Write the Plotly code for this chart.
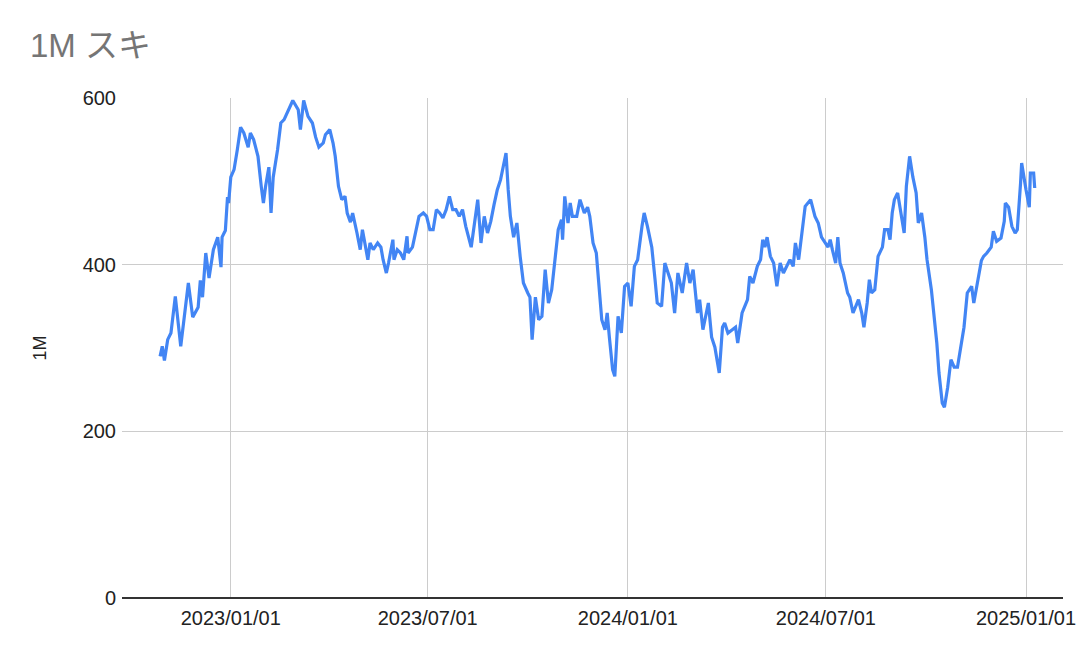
import plotly.graph_objects as go

dates = [
    "2022-10-28", "2022-10-30", "2022-11-01", "2022-11-04", "2022-11-07", "2022-11-11", "2022-11-16", "2022-11-19",
    "2022-11-23", "2022-11-27", "2022-12-02", "2022-12-04", "2022-12-06", "2022-12-09", "2022-12-12", "2022-12-16",
    "2022-12-20", "2022-12-23", "2022-12-24", "2022-12-27", "2022-12-29", "2022-12-30", "2023-01-01", "2023-01-04",
    "2023-01-06", "2023-01-07", "2023-01-10", "2023-01-13", "2023-01-17", "2023-01-19", "2023-01-22", "2023-01-26",
    "2023-01-29", "2023-01-31", "2023-02-02", "2023-02-05", "2023-02-07", "2023-02-09", "2023-02-13", "2023-02-16",
    "2023-02-19", "2023-02-22", "2023-02-27", "2023-03-04", "2023-03-06", "2023-03-09", "2023-03-13", "2023-03-17",
    "2023-03-20", "2023-03-23", "2023-03-27", "2023-03-29", "2023-04-02", "2023-04-05", "2023-04-07", "2023-04-10",
    "2023-04-13", "2023-04-16", "2023-04-18", "2023-04-21", "2023-04-23", "2023-04-27", "2023-04-30", "2023-05-02",
    "2023-05-05", "2023-05-07", "2023-05-09", "2023-05-12", "2023-05-16", "2023-05-19", "2023-05-21", "2023-05-24",
    "2023-05-26", "2023-05-30", "2023-05-31", "2023-06-03", "2023-06-06", "2023-06-09", "2023-06-12", "2023-06-13",
    "2023-06-17", "2023-06-20", "2023-06-23", "2023-06-27", "2023-06-30", "2023-07-03", "2023-07-06", "2023-07-09",
    "2023-07-12", "2023-07-15", "2023-07-18", "2023-07-21", "2023-07-24", "2023-07-27", "2023-07-30", "2023-08-02",
    "2023-08-05", "2023-08-10", "2023-08-12", "2023-08-16", "2023-08-19", "2023-08-22", "2023-08-25", "2023-08-28",
    "2023-08-31", "2023-09-03", "2023-09-06", "2023-09-09", "2023-09-11", "2023-09-13", "2023-09-15", "2023-09-18",
    "2023-09-21", "2023-09-24", "2023-09-27", "2023-10-01", "2023-10-03", "2023-10-05", "2023-10-08", "2023-10-11",
    "2023-10-14", "2023-10-17", "2023-10-20", "2023-10-23", "2023-10-26", "2023-10-29", "2023-11-01", "2023-11-02",
    "2023-11-04", "2023-11-07", "2023-11-09", "2023-11-11", "2023-11-15", "2023-11-18", "2023-11-22", "2023-11-25",
    "2023-11-27", "2023-11-30", "2023-12-03", "2023-12-06", "2023-12-08", "2023-12-11", "2023-12-13", "2023-12-15",
    "2023-12-18", "2023-12-20", "2023-12-23", "2023-12-26", "2023-12-29", "2024-01-01", "2024-01-04", "2024-01-07",
    "2024-01-10", "2024-01-14", "2024-01-16", "2024-01-19", "2024-01-23", "2024-01-26", "2024-01-28", "2024-02-01",
    "2024-02-04", "2024-02-07", "2024-02-10", "2024-02-13", "2024-02-16", "2024-02-20", "2024-02-24", "2024-02-27",
    "2024-03-01", "2024-03-05", "2024-03-07", "2024-03-10", "2024-03-15", "2024-03-18", "2024-03-21", "2024-03-25",
    "2024-03-28", "2024-03-30", "2024-04-02", "2024-04-06", "2024-04-09", "2024-04-11", "2024-04-15", "2024-04-20",
    "2024-04-22", "2024-04-25", "2024-04-29", "2024-05-02", "2024-05-04", "2024-05-06", "2024-05-08", "2024-05-11",
    "2024-05-14", "2024-05-17", "2024-05-20", "2024-05-23", "2024-05-27", "2024-05-29", "2024-06-01", "2024-06-03",
    "2024-06-06", "2024-06-09", "2024-06-12", "2024-06-17", "2024-06-21", "2024-06-24", "2024-06-27", "2024-07-03",
    "2024-07-05", "2024-07-07", "2024-07-10", "2024-07-12", "2024-07-14", "2024-07-17", "2024-07-21", "2024-07-23",
    "2024-07-26", "2024-07-31", "2024-08-03", "2024-08-05", "2024-08-08", "2024-08-10", "2024-08-12", "2024-08-15",
    "2024-08-18", "2024-08-22", "2024-08-24", "2024-08-27", "2024-08-29", "2024-08-31", "2024-09-02", "2024-09-05",
    "2024-09-07", "2024-09-09", "2024-09-11", "2024-09-13", "2024-09-16", "2024-09-19", "2024-09-22", "2024-09-24",
    "2024-09-27", "2024-09-30", "2024-10-02", "2024-10-06", "2024-10-09", "2024-10-11", "2024-10-13", "2024-10-16",
    "2024-10-18", "2024-10-21", "2024-10-24", "2024-10-27", "2024-10-30", "2024-11-02", "2024-11-05", "2024-11-08",
    "2024-11-12", "2024-11-14", "2024-11-17", "2024-11-21", "2024-11-23", "2024-11-26", "2024-11-30", "2024-12-02",
    "2024-12-05", "2024-12-09", "2024-12-12", "2024-12-13", "2024-12-16", "2024-12-19", "2024-12-22", "2024-12-24",
    "2024-12-27", "2024-12-28", "2025-01-01", "2025-01-04", "2025-01-05", "2025-01-08", "2025-01-09",
]

values = [
    290, 302, 285, 310, 318, 362, 302, 334,
    378, 337, 349, 381, 361, 414, 384, 418,
    433, 397, 433, 441, 481, 474, 505, 514,
    534, 538, 565, 558, 541, 558, 550, 530,
    494, 474, 494, 517, 462, 505, 538, 570,
    574, 582, 597, 586, 562, 597, 578, 570,
    553, 541, 546, 556, 562, 546, 530, 494,
    478, 482, 462, 451, 462, 438, 418, 442,
    421, 406, 426, 418, 426, 421, 406, 390,
    402, 430, 406, 418, 414, 406, 434, 414,
    421, 438, 458, 462, 458, 442, 442, 466,
    462, 456, 466, 482, 466, 466, 458, 466,
    446, 421, 442, 478, 426, 458, 438, 452,
    472, 490, 502, 522, 534, 490, 458, 433,
    450, 410, 378, 366, 361, 310, 361, 334,
    338, 394, 354, 370, 410, 442, 454, 430,
    482, 450, 474, 458, 458, 478, 462, 469,
    458, 426, 414, 370, 334, 322, 342, 313,
    274, 266, 338, 318, 374, 378, 350, 398,
    406, 446, 462, 446, 421, 382, 354, 350,
    402, 390, 378, 342, 390, 366, 402, 378,
    394, 342, 358, 322, 354, 313, 301, 270,
    325, 330, 318, 322, 325, 306, 342, 358,
    386, 378, 398, 406, 430, 421, 433, 410,
    402, 374, 402, 390, 402, 406, 398, 426,
    406, 442, 470, 478, 458, 450, 433, 421,
    430, 418, 402, 433, 402, 390, 366, 361,
    342, 358, 342, 325, 354, 382, 366, 370,
    410, 421, 442, 442, 430, 462, 478, 486,
    469, 454, 438, 494, 530, 505, 486, 450,
    462, 433, 406, 370, 334, 306, 270, 234,
    229, 253, 286, 277, 277, 301, 325, 366,
    374, 354, 374, 405, 410, 414, 421, 440,
    428, 432, 452, 474, 469, 446, 438, 442,
    498, 522, 490, 469, 510, 510, 492,
]

x_ticks = ["2023-01-01", "2023-07-01", "2024-01-01", "2024-07-01", "2025-01-01"]
y_ticks = [0, 200, 400, 600]

title_text = "1M スキ"
y_title = "1M"

FONT = "Liberation Sans, Arial, Noto Sans CJK JP, sans-serif"

fig = go.Figure()
fig.add_trace(go.Scatter(
    x=dates, y=values, mode="lines",
    line=dict(color="#4285F4", width=3.2),
    hoverinfo="x+y", showlegend=False,
))

fig.update_layout(
    width=1088, height=658,
    margin=dict(l=122, r=23, t=98, b=60),
    paper_bgcolor="white", plot_bgcolor="white",
    font=dict(family=FONT, size=20, color="#222222"),
    title=dict(
        text=title_text, x=30 / 1088, xref="container", xanchor="left",
        y=1 - 45 / 658, yref="container", yanchor="middle",
        font=dict(family=FONT, size=33, color="#757575"),
    ),
)

fig.update_xaxes(
    type="date",
    range=["2022-09-23", "2025-02-04"],
    tickvals=x_ticks, tickformat="%Y/%m/%d",
    showgrid=True, gridcolor="#cccccc", gridwidth=1.2,
    showline=False, zeroline=False, ticks="",
    ticklabelstandoff=6,
    tickfont=dict(size=20, color="#222222"),
)

fig.update_yaxes(
    range=[0, 600], tickvals=y_ticks,
    showgrid=True, gridcolor="#cccccc", gridwidth=1.2,
    zeroline=True, zerolinecolor="#333333", zerolinewidth=2,
    showline=False, ticks="",
    ticklabelstandoff=5,
    tickfont=dict(size=20, color="#222222"),
    title=dict(text=y_title, standoff=31, font=dict(size=18, color="#222222")),
    automargin=False,
)

fig.write_html(
    "out.html",
    config={"displayModeBar": False},
    post_script="document.body.style.margin='0';",
)
